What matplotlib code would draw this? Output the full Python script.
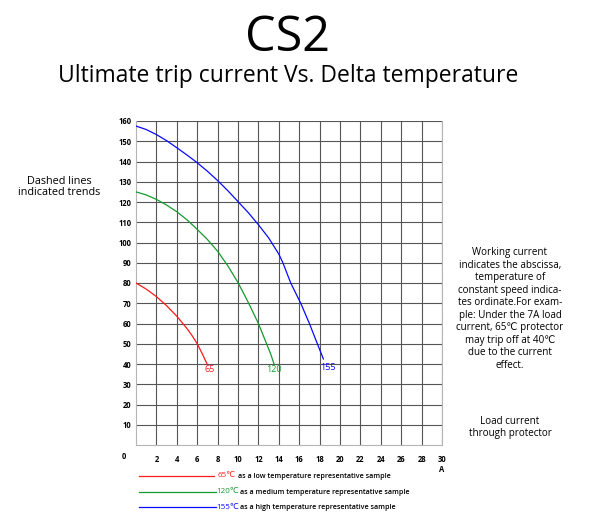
import matplotlib
matplotlib.use("Agg")
import matplotlib.pyplot as plt
from matplotlib.lines import Line2D

plt.rcParams['font.family'] = ['Open Sans', 'DejaVu Sans']

# curves (current in A, temperature in degC)
red_x = [0, 1, 2, 3, 4, 5, 5.5, 6, 6.5, 6.97]
red_y = [80, 77, 73.3, 68.8, 63.6, 57.5, 54, 50, 45, 40]

green_x = [0, 1, 2, 3, 4, 5, 6, 7, 8, 9, 10, 11, 12, 12.8, 13.2, 13.53]
green_y = [125, 123.5, 121.3, 118.5, 115.2, 111.2, 106.5, 101.5, 95.7, 88.5,
           80.2, 70.5, 60, 50, 45, 40]

blue_x = [0, 1, 2, 3, 4, 5, 6, 7, 8, 9, 10, 11, 12, 13, 14, 14.4,
          15.17, 16.15, 17, 17.78, 18.37]
blue_y = [157.5, 155.8, 153.3, 150.3, 146.8, 143.2, 139.4, 135.2, 130.6, 125.6,
          120.2, 114.8, 108.8, 102.3, 94.3, 90, 80, 70, 60, 50, 42.5]

curve_names = ["65", "120", "155"]
curve_colors = ["#ff1a1a", "#159a2e", "#0a0aff"]
legend_desc = ["as a low temperature representative sample",
               "as a medium temperature representative sample",
               "as a high temperature representative sample"]

x_ticks = list(range(2, 31, 2))
y_ticks = list(range(10, 161, 10))

W, H = 595, 532


def fx(px):
    return px / W


def fy(py):
    return 1 - py / H


fig = plt.figure(figsize=(5.95, 5.32), dpi=100)
ax = fig.add_axes([fx(136), fy(445), fx(442) - fx(136), fy(121) - fy(445)])

for xs, ys, c in zip([red_x, green_x, blue_x], [red_y, green_y, blue_y], curve_colors):
    ax.plot(xs, ys, color=c, lw=0.9, zorder=3)

# end labels
ax.text(red_x[-1] - 0.3, 39.5, "65", color=curve_colors[0], fontsize=6.5,
        va="top", ha="left")
ax.text(green_x[-1] - 0.75, 39.5, "120", color=curve_colors[1], fontsize=6.5,
        va="top", ha="left")
ax.text(blue_x[-1] - 0.35, 40.5, "155", color=curve_colors[2], fontsize=6.5,
        va="top", ha="left")

ax.set_xlim(0, 30)
ax.set_ylim(0, 160)
ax.set_xticks(x_ticks)
ax.set_yticks(y_ticks)
ax.set_xticklabels([str(t) for t in x_ticks], fontsize=5.5, fontweight="bold")
ax.set_yticklabels([str(t) for t in y_ticks], fontsize=5.5, fontweight="bold")
ax.tick_params(length=0)
ax.tick_params(axis="x", pad=7)
ax.tick_params(axis="y", pad=3.5)
ax.grid(True, color="#555555", lw=0.8)
ax.set_axisbelow(True)
ax.spines["top"].set_visible(False)
for s in ["left", "right", "bottom"]:
    ax.spines[s].set_color("#b5b5b5")
    ax.spines[s].set_linewidth(0.8)

ax.text(-1.2, -5.9, "0", fontsize=5.5, fontweight="bold", ha="center",
        va="center", clip_on=False)
ax.text(30, -12.3, "A", fontsize=5.5, fontweight="bold", ha="center",
        va="center", clip_on=False)

# titles
fig.text(fx(288), fy(38), "CS2", fontsize=35, ha="center", va="center")
fig.text(fx(288), fy(76), "Ultimate trip current Vs. Delta temperature",
         fontsize=16.5, ha="center", va="center")

# side notes
fig.text(fx(59), fy(187), "Dashed lines\nindicated trends", fontsize=7.8,
         ha="center", va="center", linespacing=1.1)
fig.text(fx(510), fy(309),
         "Working current\nindicates the abscissa,\ntemperature of\n"
         "constant speed indica-\ntes ordinate.For exam-\nple: Under the 7A load\n"
         "current, 65\u2103 protector\nmay trip off at 40\u2103\ndue to the current\neffect.",
         fontsize=7.1, ha="center", va="center", linespacing=1.19)
fig.text(fx(510), fy(427.5), "Load current\nthrough protector", fontsize=7.1,
         ha="center", va="center", linespacing=1.19)

# legend
leg_y = [475.7, 491.7, 507.3]
line_end = [214, 216, 216]
name_x = [218, 216.5, 216.5]
desc_x = [238, 240, 240]
for i in range(3):
    fig.add_artist(Line2D([fx(139), fx(line_end[i])], [fy(leg_y[i]), fy(leg_y[i])],
                          color=curve_colors[i], lw=0.9))
    fig.text(fx(name_x[i]), fy(leg_y[i]), curve_names[i] + "\u2103",
             color=curve_colors[i], fontsize=5.8, ha="left", va="center")
    fig.text(fx(desc_x[i]), fy(leg_y[i] + 0.5), legend_desc[i], fontsize=5.1,
             fontweight="semibold", ha="left", va="center")

fig.savefig("out.png", dpi=100)
